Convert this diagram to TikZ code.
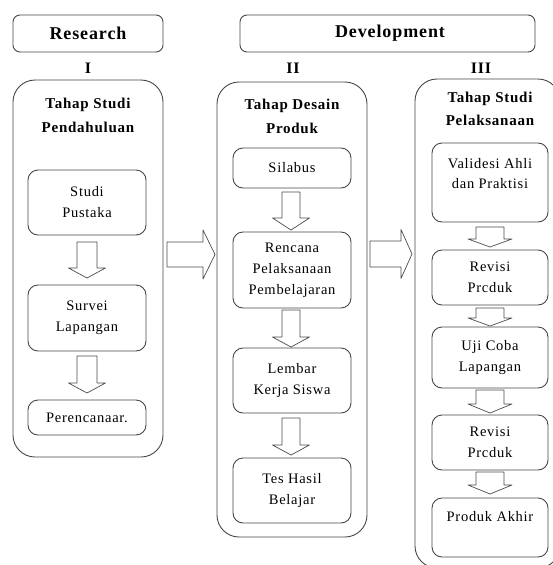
\documentclass[tikz,border=0pt]{standalone}
\usepackage{fontspec}
\setmainfont{Liberation Serif}[LetterSpace=5]
\newcommand\BlkDown[6]{% x, ytop, yhead, ytip, shaft half, head half
  \draw[barrow] (#1-#5,#2) -- (#1+#5,#2) -- (#1+#5,#3) -- (#1+#6,#3) -- (#1,#4) -- (#1-#6,#3) -- (#1-#5,#3) -- cycle;}
\newcommand\BlkRight[6]{% y, xleft, xhead, xtip, shaft half, head half
  \draw[barrow] (#2,#1-#5) -- (#3,#1-#5) -- (#3,#1-#6) -- (#4,#1) -- (#3,#1+#6) -- (#3,#1+#5) -- (#2,#1+#5) -- cycle;}
\begin{document}
\begin{tikzpicture}[x=1pt,y=-1pt,line join=round,
  hdr/.style={draw=black!72, line width=0.9pt, rounded corners=7pt, inner sep=0pt},
  hdrtxt/.style={font=\fontsize{18}{20}\selectfont\bfseries},
  roman/.style={font=\fontsize{16}{18}\selectfont\bfseries},
  outer/.style={draw=black!72, line width=0.9pt, rounded corners=22pt, inner sep=0pt},
  title/.style={align=center, font=\fontsize{15}{23.5}\selectfont\bfseries},
  inbox/.style={draw=black!72, line width=0.9pt, rounded corners=10pt, inner sep=0pt, align=center, font=\fontsize{14.5}{21}\selectfont},
  txt/.style={align=center, font=\fontsize{14.5}{20}\selectfont},
  barrow/.style={draw=black!70, line width=0.7pt, fill=white}]
\useasboundingbox (0,0) rectangle (553,565);
\clip (0,0) rectangle (553,565);

% headers
\node[hdr, minimum width=150pt, minimum height=37pt] (hres) at (88,33.5) {};
\node[hdrtxt] (tres) at (88,33.5) {Research};
\node[hdr, minimum width=295pt, minimum height=37pt] (hdev) at (387.5,33.5) {};
\node[hdrtxt] (tdev) at (390,33.5) {Development};
\node[roman] (r1) at (88,68) {I};
\node[roman] (r2) at (293,68) {II};
\node[roman] (r3) at (481,68) {III};

% outer columns
\node[outer, minimum width=150pt, minimum height=377pt] (c1) at (88,268.5) {};
\node[outer, minimum width=150pt, minimum height=455pt] (c2) at (292,309.5) {};
\node[outer, minimum width=145pt, minimum height=489pt] (c3) at (487.5,323.5) {};

\node[title] (t1) at (88,115.5) {Tahap Studi\\Pendahuluan};
\node[title] (t2) at (292,116.5) {Tahap Desain\\Produk};
\node[title] (t3) at (490,109) {Tahap Studi\\Pelaksanaan};

% column I
\node[inbox, minimum width=118pt, minimum height=65pt] (a1) at (87,202.5) {Studi\\Pustaka};
\node[inbox, minimum width=118pt, minimum height=66pt] (a2) at (87,318) {Survei\\Lapangan};
\node[inbox, minimum width=118pt, minimum height=35pt] (a3) at (87,417.5) {Perencanaar.};
\BlkDown{87}{242}{268}{278}{10}{18.5}
\BlkDown{87}{356}{383}{393}{10}{18.5}

% column II
\node[inbox, minimum width=118pt, minimum height=40pt] (b1) at (292,168) {Silabus};
\node[inbox, minimum width=118pt, minimum height=76pt] (b2) at (292,270) {Rencana\\Pelaksanaan\\Pembelajaran};
\node[inbox, minimum width=118pt, minimum height=65pt] (b3) at (292,380.5) {Lembar\\Kerja Siswa};
\node[inbox, minimum width=118pt, minimum height=65pt] (b4) at (292,490.5) {Tes Hasil\\Belajar};
\BlkDown{291}{192}{218}{230}{9}{18.5}
\BlkDown{291}{310}{337}{347}{9}{18.5}
\BlkDown{291}{418}{445}{455}{9}{18.5}

% column III
\node[inbox, minimum width=116pt, minimum height=79pt] (d1) at (490,182.5) {};
\node[txt] (d1t) at (490,174) {Validesi Ahli\\dan Praktisi};
\node[inbox, minimum width=116pt, minimum height=55pt] (d2) at (490,277.5) {Revisi\\Prcduk};
\node[inbox, minimum width=116pt, minimum height=61pt] (d3) at (490,357.5) {Uji Coba\\Lapangan};
\node[inbox, minimum width=116pt, minimum height=55pt] (d4) at (490,442.5) {Revisi\\Prcduk};
\node[inbox, minimum width=116pt, minimum height=59pt] (d5) at (490,527.5) {};
\node[txt] (d5t) at (490,517) {Produk Akhir};
\BlkDown{490}{227}{239}{247}{14}{22}
\BlkDown{490}{308}{318}{326}{14}{22}
\BlkDown{490}{390}{404}{413}{14}{22}
\BlkDown{490}{472}{485}{494}{14}{22}

% arrows between columns
\BlkRight{254.5}{167}{203}{215}{12.5}{24.5}
\BlkRight{254}{370}{401}{412}{13}{24.5}
\end{tikzpicture}
\end{document}
